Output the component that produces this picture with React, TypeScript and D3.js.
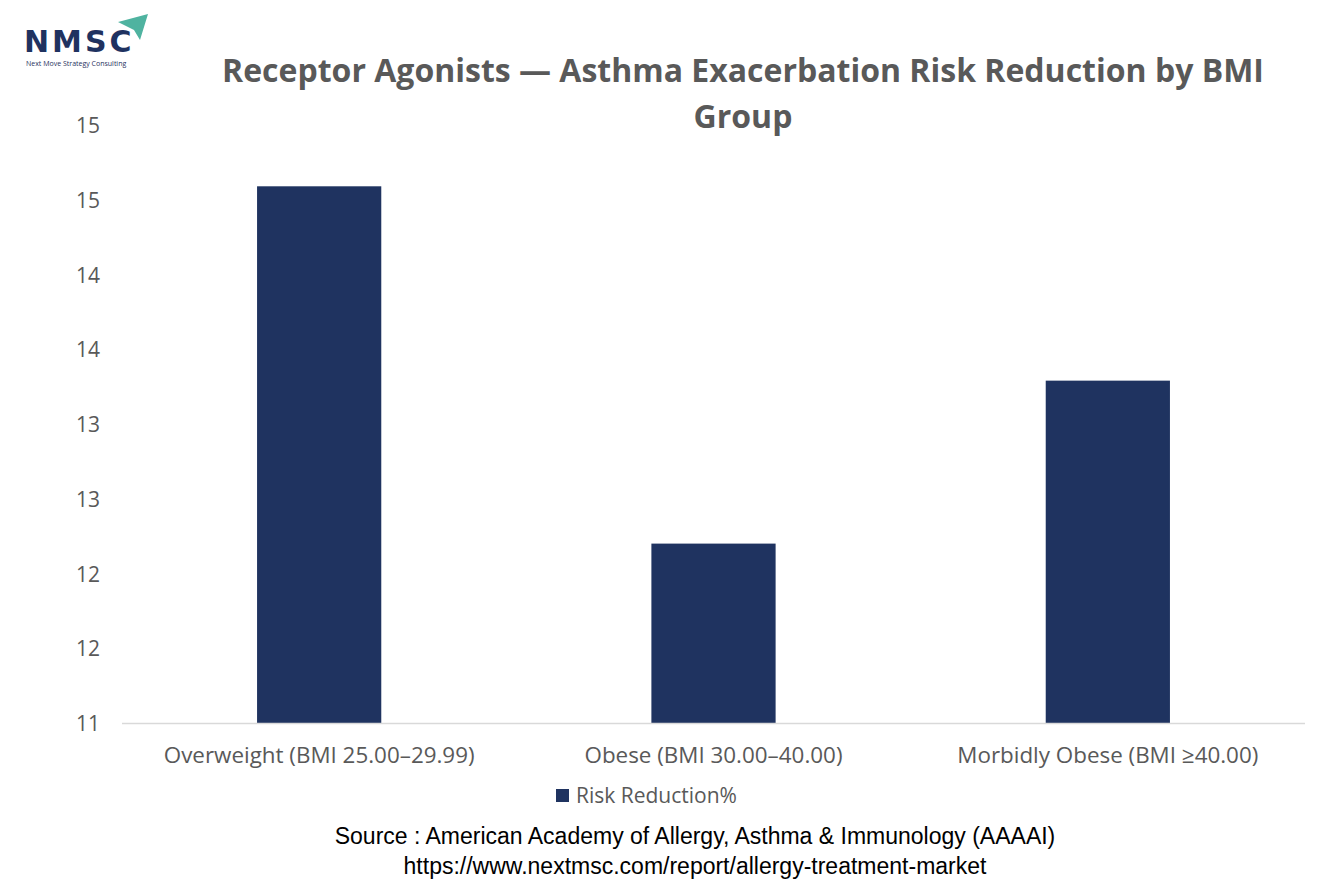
import React from "react";
import * as d3 from "d3";

const categories = [
  "Overweight (BMI 25.00–29.99)",
  "Obese (BMI 30.00–40.00)",
  "Morbidly Obese (BMI ≥40.00)",
];
const values = [14.59, 12.2, 13.29];
const yTicks = [11, 11.5, 12, 12.5, 13, 13.5, 14, 14.5, 15];

const W = 1334;
const H = 889;
const left = 122;
const right = 1305;
const top = 125;
const bottom = 723;

export default function App() {
  const x = d3.scaleBand<string>().domain(categories).range([left, right]).paddingInner(0.685).paddingOuter(0.3425);
  const y = d3.scaleLinear().domain([11, 15]).range([bottom, top]);
  const fmt = d3.format(".0f");
  const font = "'Open Sans', sans-serif";

  return (
    <svg width={W} height={H} style={{ position: "absolute", left: 0, top: 0, background: "#fff" }}>
      <g>
        <text x={24} y={52} fontFamily="'DejaVu Sans', sans-serif" fontWeight="bold" fontSize={30} fill="#1f3260" letterSpacing={3}>NMSC</text>
        <path d="M118 22 L148 14 L140 40 L134 30 Z" fill="#4fb3a0" />
        <text x={26} y={66} fontFamily={font} fontSize={7} fill="#1f3260">Next Move Strategy Consulting</text>
      </g>
      <text x={743} y={82} textAnchor="middle" fontFamily={font} fontWeight="bold" fontSize={32} fill="#595959">
        Receptor Agonists — Asthma Exacerbation Risk Reduction by BMI
      </text>
      <text x={743} y={128} textAnchor="middle" fontFamily={font} fontWeight="bold" fontSize={32} fill="#595959">Group</text>
      {yTicks.map((t) => (
        <text key={t} x={100} y={y(t) + 8} textAnchor="end" fontFamily={font} fontSize={21} fill="#595959">{fmt(t)}</text>
      ))}
      {categories.map((c, i) => (
        <rect key={c} x={x(c)} y={y(values[i])} width={x.bandwidth()} height={bottom - y(values[i])} fill="#1f3360" />
      ))}
      <line x1={left} x2={right} y1={bottom + 0.5} y2={bottom + 0.5} stroke="#d9d9d9" strokeWidth={1.5} />
      {categories.map((c) => (
        <text key={c} x={(x(c) as number) + x.bandwidth() / 2} y={763} textAnchor="middle" fontFamily={font} fontSize={22.4} fill="#595959">{c}</text>
      ))}
      <rect x={556} y={789} width={13} height={13} fill="#1f3360" />
      <text x={576} y={803} fontFamily={font} fontSize={21} fill="#595959">Risk Reduction%</text>
      <text x={695} y={844} textAnchor="middle" fontFamily="'Liberation Sans', Arial, sans-serif" fontSize={23} fill="#000">
        Source : American Academy of Allergy, Asthma &amp; Immunology (AAAAI)
      </text>
      <text x={695} y={874} textAnchor="middle" fontFamily="'Liberation Sans', Arial, sans-serif" fontSize={23} fill="#000">
        https://www.nextmsc.com/report/allergy-treatment-market
      </text>
    </svg>
  );
}
